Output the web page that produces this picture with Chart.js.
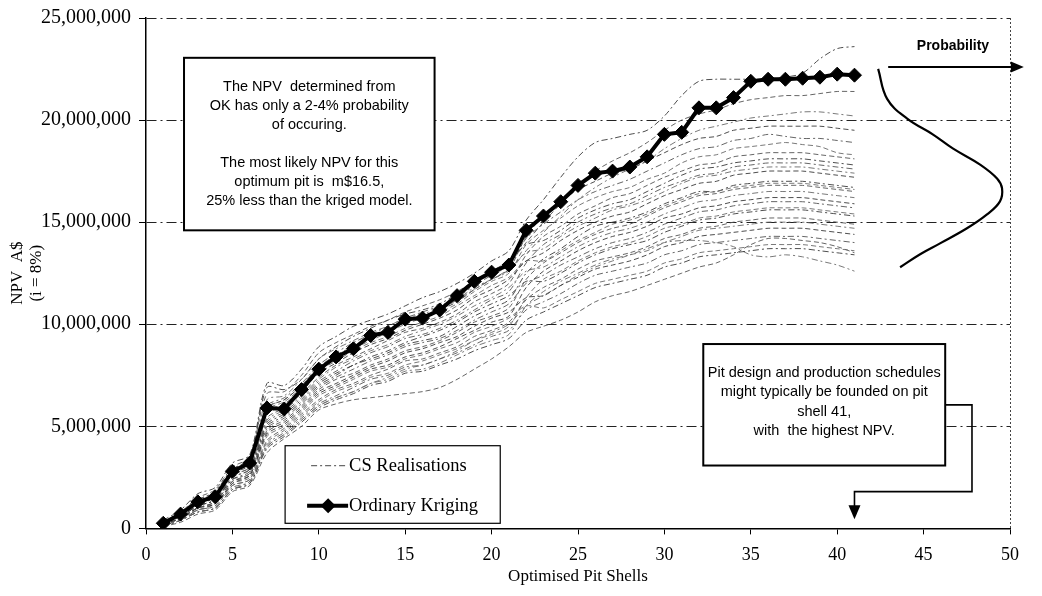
<!DOCTYPE html>
<html>
<head>
<meta charset="utf-8">
<title>NPV by optimised pit shell</title>
<script src="https://cdn.jsdelivr.net/npm/chart.js@4.4.1/dist/chart.umd.min.js"></script>
<style>
  html, body { margin: 0; padding: 0; background: #fff; }
  #wrap { width: 1042px; height: 596px; position: relative; }
</style>
</head>
<body>
<div id="wrap"><canvas id="npvChart"></canvas></div>
<script>
// pit shells on the x axis
const shells = [1,2,3,4,5,6,7,8,9,10,11,12,13,14,15,16,17,18,19,20,21,22,23,24,25,26,27,28,29,30,31,32,33,34,35,36,37,38,39,40,41];

// NPV of the ordinary kriging model, A$ millions
const okNpv = [0.25,0.7,1.3,1.55,2.8,3.2,5.9,5.85,6.8,7.8, 8.4,8.8,9.45,9.6,10.25,10.3,10.7,11.4,12.1,12.55,
  12.9,14.6,15.3,16.0,16.8,17.4,17.5,17.7,18.2,19.3, 19.4,20.6,20.6,21.1,21.9,22.0,22.0,22.05,22.1,22.25, 22.2];

// conditional simulation realisations, A$ millions per shell
const csRealisations = [
  [0.4,0.9,1.7,2.0,3.2,3.6,7.1,7.0,7.8,8.9, 9.4,9.9,10.2,10.5,10.9,11.3,11.6,12.0,12.5,13.1, 13.6,15.1,16.1,17.2,18.2,18.9,19.1,19.3,19.5,20.2, 21.2,21.9,22.0,22.0,22.0,22.0,22.1,22.3,23.0,23.5, 23.6],
  [0.3,0.8,1.5,1.9,3.0,3.5,6.6,6.7,7.5,8.6, 9.1,9.5,9.9,10.2,10.6,10.9,11.2,11.6,12.1,12.6, 13.0,14.0,15.0,15.9,16.8,17.5,18.0,18.4,18.9,19.5, 20.0,20.3,20.5,20.8,21.0,21.1,21.2,21.2,21.3,21.4, 21.4],
  [0.3,0.8,1.4,1.8,2.9,3.3,6.3,6.5,7.3,8.3, 8.8,9.2,9.6,9.9,10.3,10.5,10.8,11.2,11.7,12.2, 12.6,13.6,14.5,15.3,16.1,16.7,17.2,17.6,18.0,18.6, 19.1,19.5,19.7,19.9,20.1,20.2,20.3,20.4,20.4,20.3, 20.2],
  [0.3,0.7,1.3,1.7,2.8,3.2,5.9,6.3,7.0,7.9, 8.4,8.9,9.3,9.7,10.1,10.4,10.7,11.1,11.7,12.2, 12.7,14.3,15.3,16.0,16.6,17.0,17.4,17.6,18.0,18.4, 18.8,19.1,19.2,19.5,19.6,19.7,19.7,19.7,19.7,19.6, 19.5],
  [0.3,0.8,1.4,1.8,2.9,3.3,6.0,6.4,7.1,8.0, 8.6,9.1,9.5,9.9,10.3,10.6,10.9,11.3,11.9,12.4, 12.9,14.2,14.9,15.5,16.1,16.5,16.8,17.1,17.5,17.9, 18.3,18.6,18.7,19.0,19.1,19.3,19.2,19.1,19.1,19.0, 18.9],
  [0.3,0.7,1.3,1.7,2.8,3.2,5.8,6.2,6.9,7.8, 8.3,8.8,9.2,9.6,10.0,10.3,10.6,11.0,11.6,12.1, 12.5,13.9,14.6,15.2,15.8,16.2,16.5,16.7,17.1,17.4, 17.9,18.2,18.3,18.6,18.7,18.8,18.9,18.8,18.7,18.4, 18.3],
  [0.3,0.8,1.4,1.8,2.9,3.4,6.9,6.8,7.3,8.3, 8.9,9.4,9.8,10.2,10.5,10.7,11.0,11.5,12.1,12.6, 13.1,13.9,14.1,14.6,15.2,15.6,15.9,16.1,16.5,16.9, 17.3,17.6,17.7,17.9,18.0,18.1,18.1,18.1,18.0,17.9, 17.8],
  [0.2,0.7,1.2,1.6,2.6,3.0,5.4,5.9,6.6,7.4, 8.0,8.4,8.8,9.2,9.6,9.8,10.1,10.5,11.1,11.5, 12.0,13.4,14.3,14.8,15.4,15.8,16.2,16.4,16.8,17.2, 17.5,17.8,17.9,18.2,18.3,18.4,18.4,18.4,18.3,18.2, 18.1],
  [0.3,0.8,1.3,1.7,2.8,3.3,5.9,6.3,7.0,7.9, 8.5,8.9,9.3,9.7,10.1,10.4,10.7,11.2,11.8,12.2, 12.7,13.5,13.7,14.3,14.8,15.2,15.6,15.8,16.1,16.5, 16.9,17.2,17.3,17.5,17.6,17.7,17.7,17.7,17.6,17.5, 17.4],
  [0.3,0.7,1.3,1.6,2.7,3.1,5.6,6.0,6.7,7.6, 8.1,8.6,9.0,9.3,9.7,10.0,10.3,10.7,11.3,11.7, 12.2,13.1,13.5,14.1,14.6,15.0,15.3,15.5,15.9,16.3, 16.6,16.9,17.0,17.3,17.4,17.5,17.5,17.5,17.4,17.3, 17.2],
  [0.2,0.6,1.2,1.5,2.5,2.9,5.2,5.7,6.4,7.2, 7.7,8.2,8.6,8.9,9.3,9.5,9.8,10.2,10.7,11.2, 11.6,13.0,13.9,14.4,15.0,15.4,15.7,15.9,16.3,16.7, 17.0,17.3,17.4,17.7,17.8,17.9,17.9,17.9,17.8,17.7, 17.6],
  [0.3,0.7,1.3,1.6,2.7,3.2,5.7,6.1,6.8,7.7, 8.2,8.7,9.1,9.4,9.8,10.1,10.4,10.9,11.4,11.9, 12.3,13.1,13.1,13.6,14.1,14.5,14.9,15.1,15.4,15.8, 16.1,16.4,16.5,16.7,16.8,16.9,16.9,16.9,16.8,16.7, 16.6],
  [0.2,0.6,1.1,1.4,2.4,2.8,5.0,5.5,6.2,7.0, 7.5,8.0,8.3,8.6,9.0,9.2,9.4,9.9,10.4,10.8, 11.2,12.5,13.2,13.7,14.3,14.8,15.0,15.2,15.5,15.9, 16.2,16.5,16.5,16.8,16.9,17.0,17.0,17.0,16.9,16.8, 16.7],
  [0.2,0.6,1.0,1.3,2.3,2.7,4.8,5.3,6.0,6.8, 7.3,7.6,8.0,8.3,8.7,8.9,9.2,9.6,10.1,10.4, 10.8,12.2,13.0,13.5,14.0,14.4,14.7,14.9,15.3,15.7, 16.0,16.3,16.4,16.6,16.7,16.8,16.8,16.8,16.7,16.6, 16.5],
  [0.2,0.7,1.2,1.5,2.6,3.0,5.3,5.8,6.5,7.3, 7.9,8.3,8.7,9.0,9.4,9.7,10.0,10.4,10.9,11.3, 11.8,12.6,12.8,13.3,13.8,14.2,14.5,14.7,15.0,15.4, 15.7,16.0,16.1,16.3,16.4,16.5,16.5,16.5,16.4,16.3, 16.2],
  [0.2,0.5,1.0,1.2,2.2,2.6,4.6,5.1,5.8,6.6, 7.0,7.4,7.8,8.0,8.4,8.6,8.9,9.3,9.7,10.1, 10.4,11.8,12.6,13.1,13.6,14.0,14.3,14.5,14.8,15.2, 15.4,15.7,15.8,16.0,16.1,16.2,16.2,16.2,16.1,16.0, 15.9],
  [0.2,0.6,1.1,1.4,2.4,2.7,4.9,5.4,6.1,6.9, 7.4,7.8,8.2,8.5,8.9,9.1,9.3,9.7,10.2,10.6, 11.0,12.0,12.4,12.9,13.3,13.7,14.0,14.2,14.5,14.9, 15.2,15.5,15.6,15.8,15.9,16.0,16.0,16.0,15.9,15.8, 15.7],
  [0.1,0.5,0.9,1.1,2.1,2.4,4.2,4.8,5.5,6.2, 6.7,7.0,7.4,7.6,8.0,8.2,8.5,8.8,9.2,9.5, 9.9,11.3,12.2,12.6,13.1,13.5,13.8,14.0,14.3,14.7, 14.9,15.2,15.3,15.5,15.6,15.7,15.7,15.7,15.6,15.5, 15.4],
  [0.2,0.6,1.1,1.4,2.5,2.9,5.1,5.6,6.3,7.1, 7.6,8.0,8.4,8.7,9.1,9.4,9.7,10.1,10.6,11.0, 11.4,12.1,12.1,12.5,13.0,13.4,13.7,13.9,14.1,14.5, 14.8,15.1,15.2,15.4,15.5,15.6,15.6,15.6,15.5,15.4, 15.3],
  [0.1,0.5,0.9,1.2,2.1,2.4,4.3,4.9,5.6,6.3, 6.8,7.1,7.5,7.8,8.2,8.3,8.6,8.9,9.4,9.7, 10.1,11.2,11.8,12.2,12.7,13.1,13.3,13.5,13.8,14.2, 14.4,14.7,14.8,15.0,15.1,15.2,15.2,15.2,15.1,15.0, 14.9],
  [0.1,0.4,0.8,1.0,1.9,2.3,4.0,4.6,5.3,6.0, 6.4,6.7,7.1,7.3,7.7,7.8,8.1,8.5,8.9,9.2, 9.5,10.9,11.6,12.1,12.5,12.9,13.2,13.4,13.6,14.0, 14.3,14.6,14.7,14.8,14.9,15.0,15.0,15.0,14.9,14.8, 14.7],
  [0.2,0.5,1.0,1.3,2.3,2.6,4.7,5.2,5.9,6.7, 7.1,7.5,7.9,8.2,8.6,8.8,9.1,9.4,9.9,10.3, 10.6,11.3,11.4,11.9,12.3,12.7,12.9,13.1,13.4,13.8, 14.0,14.3,14.4,14.5,14.6,14.7,14.7,14.7,14.6,14.5, 14.4],
  [0.1,0.4,0.9,1.1,2.0,2.3,4.1,4.7,5.4,6.1, 6.5,6.9,7.3,7.5,7.9,8.0,8.3,8.6,9.0,9.4, 9.7,10.7,11.1,11.5,12.0,12.4,12.6,12.8,13.0,13.4, 13.6,13.9,14.0,14.1,14.2,14.3,14.3,14.3,14.2,14.1, 14.0],
  [0.2,0.5,1.0,1.2,2.2,2.5,4.5,5.0,5.7,6.5, 6.9,7.3,7.7,7.9,8.3,8.5,8.8,9.1,9.6,9.9, 10.3,10.9,10.8,11.2,11.6,12.0,12.2,12.4,12.6,13.0, 13.2,13.5,13.6,13.7,13.8,13.9,13.9,13.9,13.8,13.7, 13.6],
  [0.1,0.4,0.8,1.0,1.9,2.2,3.9,4.5,5.2,5.9, 6.3,6.6,7.0,7.2,7.6,7.7,8.0,8.3,8.7,9.0, 9.3,10.2,10.6,11.0,11.4,11.8,12.0,12.2,12.4,12.8, 13.0,13.3,13.4,13.5,13.6,13.7,13.7,13.7,13.6,13.5, 13.4],
  [0.1,0.3,0.7,0.9,1.8,2.1,3.7,4.4,5.0,5.8, 6.1,6.3,6.4,6.5,6.6,6.7,6.9,7.3,7.8,8.3, 8.9,9.6,9.9,10.2,10.6,11.1,11.4,11.6,11.9,12.2, 12.5,12.8,13.0,13.4,13.9,14.2,14.2,14.1,14.0,13.8, 13.5],
  [0.1,0.4,0.8,1.0,1.9,2.2,4.0,4.6,5.3,6.0, 6.4,6.7,7.1,7.4,7.8,8.0,8.3,8.7,9.2,9.6, 10.0,10.9,11.4,11.9,12.4,12.8,13.1,13.4,13.7,14.0, 14.1,14.1,14.0,13.8,13.4,13.3,13.4,13.3,13.1,12.9, 12.6]
];

// probability curve sketched beside the last shell (x in shells, y in A$ millions)
const probShell = [42.37,42.89,44.05,45.55,46.71,48.27,49.25,49.54,49.42,48.67,47.51,45.95,44.80,43.64];
const probNpv   = [22.51,21.04,20.07,19.29,18.60,17.82,17.14,16.65,16.02,15.38,14.70,13.96,13.43,12.79];

const SERIF = '"Liberation Serif", "Times New Roman", serif';
const SANS = '"Liberation Sans", Arial, sans-serif';
const M = 1000000;

const toPoints = (xs, ys) => xs.map((x, i) => ({ x: x, y: ys[i] * M }));

const datasets = [{
  label: 'Ordinary Kriging',
  data: toPoints(shells, okNpv),
  borderColor: '#000',
  backgroundColor: '#000',
  borderWidth: 4,
  pointStyle: 'rectRot',
  pointRadius: 7,
  pointBorderWidth: 1,
  tension: 0,
  order: 0
}, {
  label: 'probability',
  data: toPoints(probShell, probNpv),
  borderColor: '#000',
  borderWidth: 2.2,
  pointRadius: 0,
  tension: 0.4,
  order: 1
}];

csRealisations.forEach((vals, i) => {
  datasets.push({
    label: 'CS Realisations',
    data: toPoints(shells, vals),
    borderColor: i % 3 === 0 ? '#3a3a3a' : (i % 3 === 1 ? '#555' : '#6a6a6a'),
    borderWidth: 0.9,
    borderDash: i % 2 ? [5, 3] : [6, 3, 2, 3],
    pointRadius: 0,
    tension: 0.3,
    order: 2
  });
});

function arrowHead(ctx, tipX, tipY, dx, dy, len, half) {
  ctx.beginPath();
  ctx.moveTo(tipX, tipY);
  ctx.lineTo(tipX - dx * len - dy * half, tipY - dy * len + dx * half);
  ctx.lineTo(tipX - dx * len + dy * half, tipY - dy * len - dx * half);
  ctx.closePath();
  ctx.fill();
}

function textBox(ctx, left, top, right, bottom, lines, firstOffset, gap) {
  ctx.fillStyle = '#fff';
  ctx.fillRect(left, top, right - left, bottom - top);
  ctx.strokeStyle = '#000';
  ctx.lineWidth = 2;
  ctx.setLineDash([]);
  ctx.strokeRect(left, top, right - left, bottom - top);
  ctx.fillStyle = '#000';
  ctx.font = '14.5px ' + SANS;
  ctx.textAlign = 'center';
  ctx.textBaseline = 'middle';
  const cx = (left + right) / 2;
  lines.forEach((t, i) => ctx.fillText(t, cx, top + firstOffset + i * gap));
}

// axis titles, frame, annotation boxes, arrows and the legend box
const overlays = {
  id: 'npvOverlays',
  afterDraw(chart) {
    const { ctx, chartArea: a } = chart;
    const xs = chart.scales.x, ys = chart.scales.y;
    const px = v => xs.getPixelForValue(v);
    const py = v => ys.getPixelForValue(v * M);
    ctx.save();

    // axis titles
    ctx.fillStyle = '#000';
    ctx.font = '17px ' + SERIF;
    ctx.textAlign = 'center';
    ctx.textBaseline = 'middle';
    ctx.fillText('Optimised Pit Shells', (a.left + a.right) / 2, 577);
    ctx.save();
    ctx.translate(18, (a.top + a.bottom) / 2);
    ctx.rotate(-Math.PI / 2);
    ctx.fillText('NPV  A$', 0, 0);
    ctx.restore();
    ctx.save();
    ctx.translate(37, (a.top + a.bottom) / 2);
    ctx.rotate(-Math.PI / 2);
    ctx.fillText('(i = 8%)', 0, 0);
    ctx.restore();

    // right edge of the plot
    ctx.strokeStyle = '#444';
    ctx.lineWidth = 1;
    ctx.setLineDash([2, 2]);
    ctx.beginPath();
    ctx.moveTo(a.right + 0.5, a.top);
    ctx.lineTo(a.right + 0.5, a.bottom);
    ctx.stroke();
    ctx.setLineDash([]);

    textBox(ctx, px(2.2), py(23.05), px(16.7), py(14.6), [
      'The NPV  determined from',
      'OK has only a 2-4% probability',
      'of occuring.',
      '',
      'The most likely NPV for this',
      'optimum pit is  m$16.5,',
      '25% less than the kriged model.'
    ], 29, 19);

    textBox(ctx, px(32.25), py(9.03), px(46.25), py(3.08), [
      'Pit design and production schedules',
      'might typically be founded on pit',
      'shell 41,',
      'with  the highest NPV.'
    ], 29, 19.3);

    // connector from the box down to shell 41
    ctx.strokeStyle = '#000';
    ctx.fillStyle = '#000';
    ctx.lineWidth = 1.6;
    ctx.beginPath();
    ctx.moveTo(px(46.25), py(6.05));
    ctx.lineTo(px(47.8), py(6.05));
    ctx.lineTo(px(47.8), py(1.8));
    ctx.lineTo(px(41), py(1.8));
    ctx.lineTo(px(41), py(1.0));
    ctx.stroke();
    arrowHead(ctx, px(41), py(0.45), 0, 1, 14, 6);

    // probability axis arrow
    ctx.lineWidth = 2;
    ctx.beginPath();
    ctx.moveTo(px(42.95), py(22.6));
    ctx.lineTo(px(50.2), py(22.6));
    ctx.stroke();
    arrowHead(ctx, px(50.8), py(22.6), 1, 0, 13, 5.5);
    ctx.font = 'bold 14px ' + SANS;
    ctx.textAlign = 'center';
    ctx.textBaseline = 'middle';
    ctx.fillText('Probability', px(46.7), py(23.6));

    // legend
    const L = px(8.05), R = px(20.5), T = py(4.05), B = py(0.25);
    ctx.fillStyle = '#fff';
    ctx.fillRect(L, T, R - L, B - T);
    ctx.strokeStyle = '#000';
    ctx.lineWidth = 1.2;
    ctx.strokeRect(L, T, R - L, B - T);

    const row1 = T + 20, row2 = T + 60;
    ctx.strokeStyle = '#444';
    ctx.lineWidth = 1;
    ctx.setLineDash([6, 3, 2, 3]);
    ctx.beginPath();
    ctx.moveTo(L + 26, row1);
    ctx.lineTo(L + 62, row1);
    ctx.stroke();
    ctx.setLineDash([]);

    ctx.strokeStyle = '#000';
    ctx.lineWidth = 4;
    ctx.beginPath();
    ctx.moveTo(L + 22, row2);
    ctx.lineTo(L + 63, row2);
    ctx.stroke();
    ctx.fillStyle = '#000';
    ctx.beginPath();
    ctx.moveTo(L + 43 - 7.5, row2);
    ctx.lineTo(L + 43, row2 - 7.5);
    ctx.lineTo(L + 43 + 7.5, row2);
    ctx.lineTo(L + 43, row2 + 7.5);
    ctx.closePath();
    ctx.fill();

    ctx.font = '18.5px ' + SERIF;
    ctx.textAlign = 'left';
    ctx.textBaseline = 'middle';
    ctx.fillText('CS Realisations', L + 64, row1);
    ctx.fillText('Ordinary Kriging', L + 64, row2);

    ctx.restore();
  }
};

new Chart(document.getElementById('npvChart'), {
  type: 'line',
  data: { datasets: datasets },
  options: {
    responsive: true,
    maintainAspectRatio: false,
    devicePixelRatio: 1,
    animation: false,
    events: [],
    layout: { padding: { left: 33, right: 32, top: 2, bottom: 20 } },
    plugins: { legend: { display: false }, tooltip: { enabled: false } },
    scales: {
      x: {
        type: 'linear',
        min: 0,
        max: 50,
        ticks: { stepSize: 5, color: '#000', font: { family: SERIF, size: 18 }, padding: 10, maxRotation: 0 },
        grid: { drawOnChartArea: false, drawTicks: true, tickLength: 6, tickColor: '#000', tickWidth: 1 },
        border: { color: '#000', width: 1.5 }
      },
      y: {
        type: 'linear',
        min: 0,
        max: 25 * M,
        ticks: { stepSize: 5 * M, color: '#000', font: { family: SERIF, size: 20, lineHeight: 1 }, padding: 8, callback: v => v.toLocaleString('en-US') },
        grid: { color: '#222', lineWidth: 1, tickLength: 7, tickColor: '#000', tickBorderDash: [] },
        border: { color: '#000', width: 1.5, dash: [10, 4, 2, 4] }
      }
    }
  },
  plugins: [overlays]
});
</script>
</body>
</html>
